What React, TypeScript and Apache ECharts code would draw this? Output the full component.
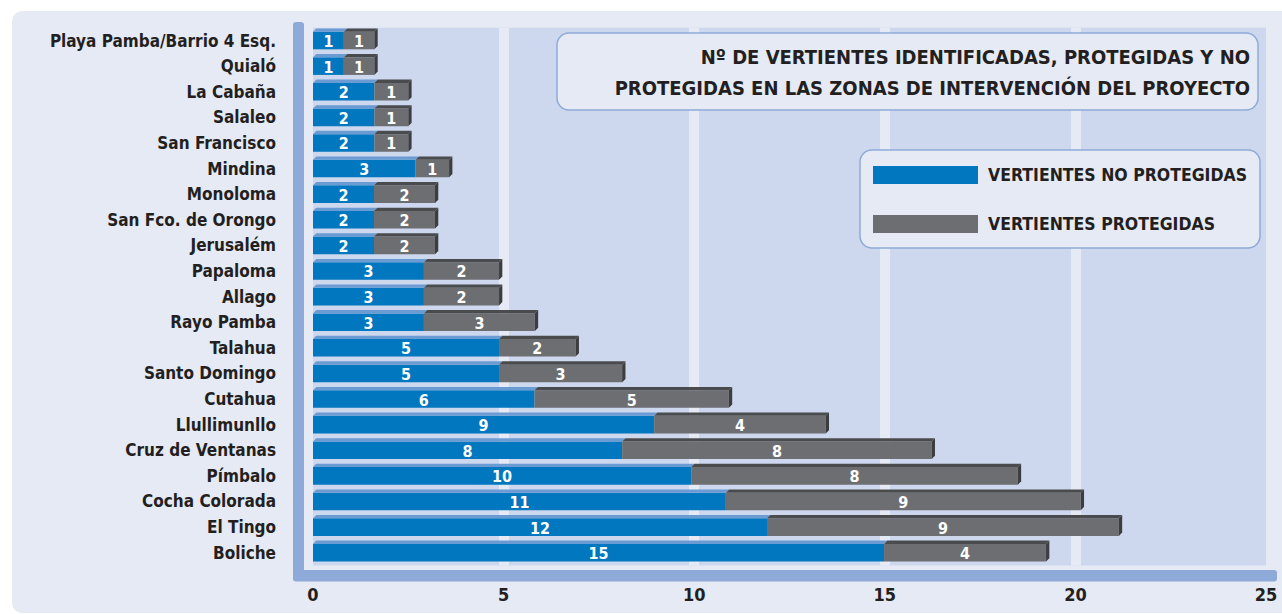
import React, { useEffect, useRef } from "react";
import * as echarts from "echarts";

const categories = [
  "Playa Pamba/Barrio 4 Esq.", "Quialó", "La Cabaña", "Salaleo", "San Francisco",
  "Mindina", "Monoloma", "San Fco. de Orongo", "Jerusalém", "Papaloma", "Allago",
  "Rayo Pamba", "Talahua", "Santo Domingo", "Cutahua", "Llullimunllo",
  "Cruz de Ventanas", "Pímbalo", "Cocha Colorada", "El Tingo", "Boliche",
];
// printed values
const noProtegidas = [1, 1, 2, 2, 2, 3, 2, 2, 2, 3, 3, 3, 5, 5, 6, 9, 8, 10, 11, 12, 15];
const protegidas = [1, 1, 1, 1, 1, 1, 2, 2, 2, 2, 2, 3, 2, 3, 5, 4, 8, 8, 9, 9, 4];
// bar lengths as drawn in the picture
const noProtegidasBar = [0.81, 0.81, 1.61, 1.61, 1.61, 2.69, 1.6, 1.6, 1.6, 2.91, 2.91, 2.91, 4.88, 4.88, 5.81, 8.95, 8.11, 9.92, 10.83, 11.91, 14.98];
const protegidasBar = [0.8, 0.8, 0.89, 0.89, 0.89, 0.88, 1.6, 1.6, 1.6, 1.97, 1.97, 2.91, 2.01, 3.23, 5.1, 4.5, 8.12, 8.57, 9.31, 9.23, 4.25];
const xTicks = { min: 0, max: 25, interval: 5 };

const titleText = "Nº DE VERTIENTES IDENTIFICADAS, PROTEGIDAS Y NO\nPROTEGIDAS EN LAS ZONAS DE INTERVENCIÓN DEL PROYECTO";
const seriesNames = ["VERTIENTES NO PROTEGIDAS", "VERTIENTES PROTEGIDAS"];

const FONT = "'Liberation Sans Narrow', 'DejaVu Sans Condensed', Roboto, sans-serif";
const BLUE = "#0077be";
const BLUE_TOP = "#6a9bd2";
const GRAY = "#6d6e71";
const GRAY_TOP = "#4a4b4d";
const GRAY_SIDE = "#3c3d3f";
const LAVENDER = "#e6eaf5";
const PLOT_BG = "#cdd7ee";
const AXIS_BLUE = "#8eaad8";
const TEXT = "#231f20";

function makeRender(body: string, top: string, side: string | null) {
  return (params: any, api: any) => {
    const idx = api.value(0);
    const s = api.value(1);
    const e = api.value(2);
    const lab = api.value(3);
    const p0 = api.coord([s, idx]);
    const p1 = api.coord([e, idx]);
    const h = 17.6;
    const d = 3.3;
    const x0 = p0[0];
    const x1 = p1[0];
    const yT = p0[1] - h / 2;
    const yB = p0[1] + h / 2;
    const children: any[] = [
      { type: "rect", shape: { x: x0, y: yT, width: x1 - x0, height: h }, style: { fill: body } },
      {
        type: "polygon",
        shape: { points: [[x0, yT], [x1, yT], [x1 + d, yT - d], [x0 + d, yT - d]] },
        style: { fill: top },
      },
    ];
    if (side) {
      children.push({
        type: "polygon",
        shape: { points: [[x1, yT], [x1 + d, yT - d], [x1 + d, yB - d], [x1, yB]] },
        style: { fill: side },
      });
    }
    children.push({
      type: "text",
      style: {
        text: String(lab),
        x: (x0 + x1) / 2,
        y: p0[1] + 1,
        align: "center",
        verticalAlign: "middle",
        fill: "#ffffff",
        font: `bold 16px ${FONT}`,
      },
    });
    return { type: "group", children };
  };
}

export default function App() {
  const ref = useRef<HTMLDivElement>(null);
  useEffect(() => {
    if (!ref.current) return;
    const chart = echarts.init(ref.current, null, { renderer: "svg" });
    const blueData = categories.map((_, i) => [i, 0, noProtegidasBar[i], noProtegidas[i]]);
    const grayData = categories.map((_, i) => [
      i, noProtegidasBar[i], noProtegidasBar[i] + protegidasBar[i], protegidas[i],
    ]);
    chart.setOption({
      animation: false,
      backgroundColor: "#ffffff",
      title: {
        text: titleText,
        left: 1250,
        top: 41,
        padding: 0,
        textAlign: "right",
        textStyle: {
          fontFamily: FONT,
          fontWeight: "bold",
          fontSize: 20,
          lineHeight: 31,
          color: TEXT,
          align: "right",
        },
      },
      legend: {
        data: seriesNames,
        orient: "vertical",
        left: 873,
        top: 166,
        padding: 0,
        itemWidth: 105,
        itemHeight: 18,
        itemGap: 31,
        icon: "rect",
        selectedMode: false,
        textStyle: {
          fontFamily: FONT,
          fontWeight: "bold",
          fontSize: 17.5,
          lineHeight: 18,
          color: TEXT,
          padding: [0, 0, 0, 5],
        },
      },
      grid: {
        left: 313,
        right: 16,
        top: 27.7,
        bottom: 48.5,
        show: true,
        backgroundColor: PLOT_BG,
        borderWidth: 0,
      },
      xAxis: {
        type: "value",
        min: xTicks.min,
        max: xTicks.max,
        interval: xTicks.interval,
        axisLine: { show: false },
        axisTick: { show: false },
        splitLine: {
          show: true,
          showMinLine: false,
          showMaxLine: false,
          lineStyle: { color: LAVENDER, width: 10 },
        },
        axisLabel: {
          margin: 20,
          fontFamily: FONT,
          fontWeight: "bold",
          fontSize: 18,
          color: TEXT,
        },
      },
      yAxis: {
        type: "category",
        inverse: true,
        data: categories,
        axisLine: { show: false },
        axisTick: { show: false },
        splitLine: { show: false },
        axisLabel: {
          interval: 0,
          margin: 37,
          fontFamily: FONT,
          fontWeight: "bold",
          fontSize: 17,
          color: TEXT,
        },
      },
      graphic: [
        {
          type: "rect",
          z: -1,
          shape: { x: 12, y: 11, width: 1290, height: 602, r: 10 },
          style: { fill: LAVENDER },
        },
        {
          type: "rect",
          z: 3,
          shape: { x: 293, y: 22, width: 11, height: 559, r: 3 },
          style: { fill: AXIS_BLUE },
        },
        {
          type: "rect",
          z: 3,
          shape: { x: 293, y: 570, width: 984, height: 11.5, r: 3 },
          style: { fill: AXIS_BLUE },
        },
        {
          type: "rect",
          z: 3,
          shape: { x: 557, y: 33, width: 701, height: 77, r: 12 },
          style: { fill: LAVENDER, stroke: AXIS_BLUE, lineWidth: 1.5 },
        },
        {
          type: "rect",
          z: 3,
          shape: { x: 860, y: 150, width: 400, height: 98, r: 12 },
          style: { fill: LAVENDER, stroke: AXIS_BLUE, lineWidth: 1.5 },
        },
      ],
      series: [
        {
          name: seriesNames[0],
          type: "custom",
          itemStyle: { color: BLUE },
          renderItem: makeRender(BLUE, BLUE_TOP, null),
          encode: { x: [1, 2], y: 0 },
          data: blueData,
        },
        {
          name: seriesNames[1],
          type: "custom",
          itemStyle: { color: GRAY },
          renderItem: makeRender(GRAY, GRAY_TOP, GRAY_SIDE),
          encode: { x: [1, 2], y: 0 },
          data: grayData,
        },
      ],
    });
    return () => chart.dispose();
  }, []);
  return (
    <div
      ref={ref}
      style={{ position: "fixed", left: 0, top: 0, width: 1282, height: 614 }}
    />
  );
}
